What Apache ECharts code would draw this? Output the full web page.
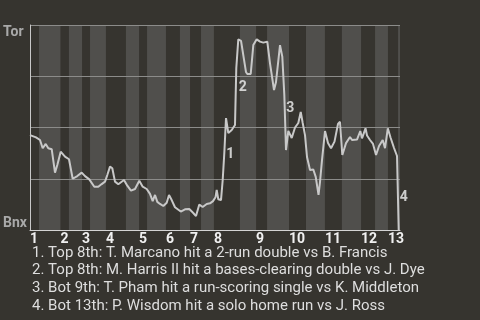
<!DOCTYPE html>
<html><head><meta charset="utf-8">
<script src="https://cdn.jsdelivr.net/npm/echarts@6/dist/echarts.min.js"></script>
<style>html,body{margin:0;padding:0;background:#36342f}#c{width:480px;height:320px}</style>
</head><body><div id="c"></div>
<script>
// x = plate-appearance position, y = Toronto win probability (%)
const paPos = [0,2.19,3.65,4.63,5.73,6.68,7.92,9.12,9.96,11.2,12.77,14.23,15.58,17.26,18.86,20.07,21.64,23.46,24.92,26.16,27.37,28.2,29.19,30.03,31.01,32.22,34.3,35.5,36.85,38.31,39.88,41.12,42.58,43.78,44.77,45.61,46.45,47.43,48.64,49.88,50.72,51.7,52.9,55.0,56.55,58.12,59.58,60.57,61.77,63.01,64.47,65.68,66.77,67.68,68.12,68.7,69.69,70.31,70.9,71.52,72.36,73.6,74.8,75.27,76.0,77.0,78.8,79.29,80.53,81.48,82.72,83.92,85.13,86.58,87.57,89.03,89.76,91.22,92.06,92.79,93.41,94.25,95.49,96.7,97.9,98.78,99.5,100.34,101.07,102.17,103.37,104.25,105.27,105.81,106.54,107.64,108.73,109.83,111.1,112.38,113.11,113.95,115.3,116.76,117.49,119.31,120.52,121.14,122.42,122.97,124.06,125.16,126.25,127.35,128.7,129.53,130.55,131.54,132.82,133.91,134.53];
const torWinPct = [46.3,45.2,43.9,39.9,42.0,39.9,39.4,28.0,31.7,38.2,35.8,34.5,25.0,26.3,28.0,26.3,24.7,21.1,21.1,22.4,23.6,26.8,30.9,30.1,23.6,22.3,24.4,21.6,19.2,20.0,24.0,21.1,20.0,17.6,14.1,17.1,13.7,12.7,11.7,13.3,17.1,14.6,11.1,9.0,10.1,10.2,8.3,6.8,12.4,11.2,12.7,13.0,14.1,16.0,19.5,15.0,14.6,24.4,37.6,54.6,47.3,48.8,51.2,79.0,93.0,92.3,77.1,76.1,76.1,90.2,93.0,91.9,91.4,91.9,81.3,68.3,72.2,90.2,84.5,65.9,39.0,48.3,44.9,50.0,52.2,57.6,52.2,46.3,35.6,29.3,29.5,25.9,17.1,23.4,34.1,48.3,42.4,39.9,43.1,51.7,52.8,36.6,42.4,45.4,43.9,44.1,48.3,44.7,49.6,46.1,43.9,42.0,36.6,41.0,43.9,39.9,49.6,45.1,40.0,36.1,0];
const topStarts = [0,11.1,19.0,27.7,39.8,49.6,58.4,67.1,82.5,94.5,107.6,120.8,130.6];
const botStarts = [3.3,14.2,21.9,35.0,42.7,54.7,62.4,76.6,86.5,100.7,113.8,125.9,134.3];
const xMax = 135;
const inningLabels = ['1','2','3','4','5','6','7','8','9','10','11','12','13'];
const yEndLabels = ['Bnx','Tor'];
const eventSpans = [[57,59],[62,64],[78,80],[119,120]];
const notes = [
  '1. Top 8th: T. Marcano hit a 2-run double vs B. Francis',
  '2. Top 8th: M. Harris II hit a bases-clearing double vs J. Dye',
  '3. Bot 9th: T. Pham hit a run-scoring single vs K. Middleton',
  '4. Bot 13th: P. Wisdom hit a solo home run vs J. Ross'
];

const pts = paPos.map((x,i)=>[x, torWinPct[i]]);
const eventPts = eventSpans.map(([a,b]) => [(paPos[a]+paPos[b])/2, (torWinPct[a]+torWinPct[b])/2]);
const stripes = botStarts.map((s,i)=>[{xAxis:s},{xAxis: i+1<topStarts.length ? topStarts[i+1] : xMax}]);

const chart = echarts.init(document.getElementById('c'), null, {renderer:'canvas'});
chart.setOption({
  animation:false,
  backgroundColor:'#36342f',
  textStyle:{fontFamily:'Roboto'},
  title:{
    text: notes.join('\n'), left:32, top:244, padding:0,
    textStyle:{color:'#dedede', fontSize:15, fontWeight:'normal', lineHeight:17.8, fontFamily:'Roboto'}
  },
  grid:{left:30, top:25, right:80, bottom:90, containLabel:false},
  xAxis:{
    type:'value', min:0, max:xMax, z:3,
    axisLine:{show:true, lineStyle:{color:'#d4d4d4', width:1}},
    axisTick:{show:false},
    splitLine:{show:false},
    axisLabel:{
      customValues: topStarts,
      formatter: v => { const i = topStarts.indexOf(v); return i>=0 ? inningLabels[i] : ''; },
      align:'left', margin:2, color:'#f0f0f0', fontWeight:'bold', fontSize:14, fontFamily:'Roboto'
    }
  },
  yAxis:{
    type:'value', min:0, max:100, interval:25, z:3,
    axisLine:{show:true, lineStyle:{color:'#c8c8c8', width:1}},
    axisTick:{show:false},
    splitLine:{show:true, lineStyle:{color:'#8c8c8a', width:1}},
    axisLabel:{
      formatter: v => v===0 ? yEndLabels[0] : (v===100 ? yEndLabels[1] : ''),
      align:'left', margin:27, color:'#a9a9a9', fontWeight:'bold', fontSize:14, fontFamily:'Roboto',
      verticalAlignMinLabel:'bottom', verticalAlignMaxLabel:'top'
    }
  },
  series:[
    {type:'line', data:[], z:1, silent:true,
     markArea:{silent:true, itemStyle:{color:'#504f4c'}, data: stripes}},
    {type:'line', data:pts, symbol:'none', showSymbol:false, z:4,
     lineStyle:{color:'#c8c8c8', width:2}},
    {type:'scatter', data:eventPts, symbolSize:0, z:5,
     label:{show:true, formatter:p=>String(p.dataIndex+1), position:'right', distance:2, offset:[0,5],
       color:'#f2f2f2', fontWeight:'bold', fontSize:14, fontFamily:'Roboto'}}
  ]
});
</script></body></html>
